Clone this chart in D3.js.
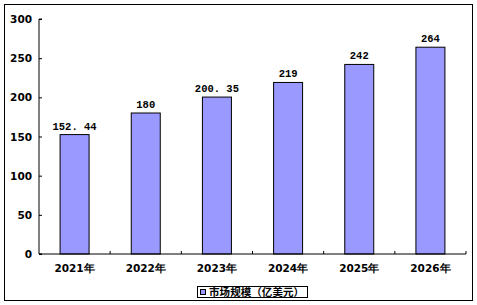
<!DOCTYPE html>
<html>
<head>
<meta charset="utf-8">
<script src="https://d3js.org/d3.v7.min.js"></script>
<style>
body { margin: 0; background: #fff; }
svg text { font-family: "DejaVu Sans", Verdana, sans-serif; font-weight: bold; }
.val { font-family: "Liberation Mono", "DejaVu Sans Mono", monospace; }
</style>
</head>
<body>
<svg class="chart" width="477" height="305"></svg>
<script>
var years = ["2021年", "2022年", "2023年", "2024年", "2025年", "2026年"]
var values = [152.44, 180, 200.35, 219, 242, 264]
var valueLabels = ["152. 44", "180", "200. 35", "219", "242", "264"]
var yTicks = [0, 50, 100, 150, 200, 250, 300]
var seriesName = "市场规模（亿美元）"

var svg = d3.select(".chart")
svg.append("rect").attr("x", 4.5).attr("y", 4.5).attr("width", 468).attr("height", 296)
  .attr("fill", "none").attr("stroke", "black").attr("stroke-width", 1)

var plotLeft = 39, plotRight = 466, plotTop = 19, plotBottom = 254
var x = d3.scaleBand().domain(years).range([plotLeft, plotRight])
var y = d3.scaleLinear().domain([0, 300]).range([plotBottom, plotTop])

// bars
svg.append("g").selectAll("rect").data(values).enter().append("rect")
  .attr("x", function(d, i) { return x(years[i]) + x.bandwidth() / 2 - 14.5 })
  .attr("width", 29)
  .attr("y", function(d) { return y(d) })
  .attr("height", function(d) { return plotBottom - y(d) })
  .attr("fill", "#9999ff").attr("stroke", "black").attr("stroke-width", 1)

svg.append("g").selectAll("text").data(values).enter().append("text")
  .attr("class", "val")
  .attr("x", function(d, i) { return x(years[i]) + x.bandwidth() / 2 })
  .attr("y", function(d) { return y(d) - 5 })
  .attr("text-anchor", "middle").attr("font-size", 10.5)
  .text(function(d, i) { return valueLabels[i] })

// y axis
var ya = svg.append("g").attr("transform", "translate(" + plotLeft + ",0)")
  .call(d3.axisRight(y).tickValues(yTicks).tickSize(3).tickFormat(""))
ya.select(".domain").attr("d", "M3," + plotTop + "H0V" + plotBottom + "H3")
svg.append("g").selectAll("text").data(yTicks).enter().append("text")
  .attr("x", 32).attr("y", function(d) { return y(d) + 4 })
  .attr("text-anchor", "end").attr("font-size", 10.5)
  .text(function(d) { return d })

// x axis
var xa = svg.append("g").attr("transform", "translate(0," + plotBottom + ")")
  .call(d3.axisTop(x).tickSize(0).tickFormat(""))
xa.select(".domain").attr("d", "M" + plotLeft + ",0H" + plotRight + "V-3")
xa.selectAll(".b").data(years.slice(1)).enter().append("line").attr("class", "b")
  .attr("x1", function(d) { return x(d) }).attr("x2", function(d) { return x(d) })
  .attr("y1", 0).attr("y2", -3).attr("stroke", "black")
svg.append("g").selectAll("text").data(years).enter().append("text")
  .attr("x", function(d) { return x(d) + x.bandwidth() / 2 })
  .attr("y", 272).attr("text-anchor", "middle").attr("font-size", 10.5)
  .text(function(d) { return d })

// legend
var lg = svg.append("g")
lg.append("rect").attr("x", 197.5).attr("y", 286.5).attr("width", 110).attr("height", 11)
  .attr("fill", "white").attr("stroke", "black")
lg.append("rect").attr("x", 200.5).attr("y", 289.5).attr("width", 5).attr("height", 5)
  .attr("fill", "#9999ff").attr("stroke", "black")
lg.append("text").attr("x", 209).attr("y", 296).attr("font-size", 10.5)
  .attr("textLength", 95).attr("lengthAdjust", "spacing")
  .style("font-family", "'Noto Sans CJK SC', sans-serif")
  .text(seriesName)
</script>
</body>
</html>
